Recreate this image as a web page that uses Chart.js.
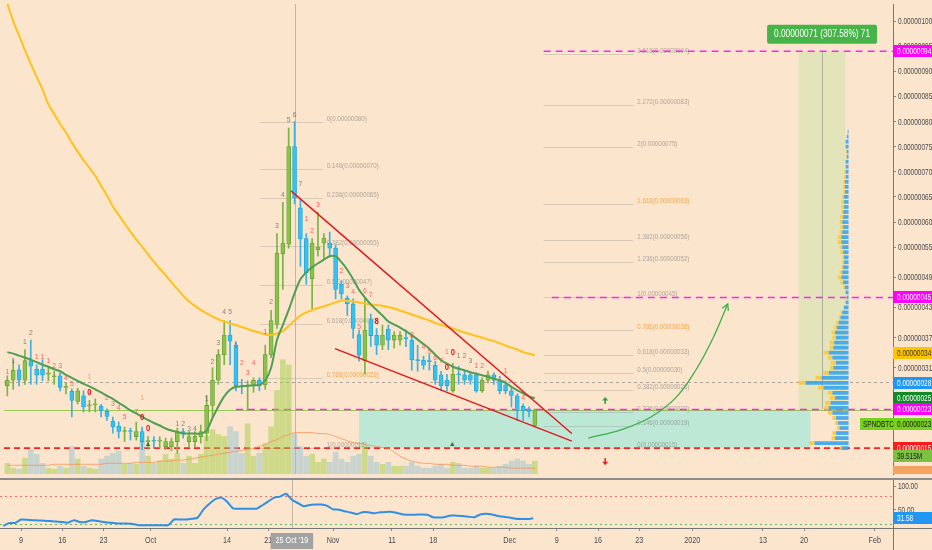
<!DOCTYPE html>
<html>
<head>
<meta charset="utf-8">
<script src="https://cdn.jsdelivr.net/npm/chart.js@4.4.1/dist/chart.umd.min.js"></script>
<style>
  html, body { margin: 0; padding: 0; background: #fce5cd; }
  #wrap { position: relative; width: 932px; height: 550px; overflow: hidden; }
  canvas { position: absolute; left: 0; }
  #main { top: 0; }
  #osc { top: 478px; }
</style>
</head>
<body>
<div id="wrap">
  <canvas id="main" width="932" height="478" style="width:932px;height:478px"></canvas>
  <canvas id="osc" width="932" height="72" style="width:932px;height:72px"></canvas>
</div>
<script>
// SPND/BTC daily, prices in satoshi (1 = 0.00000001 BTC)
// x = days since 2019-09-06
const openP = [27.4,28.5,30.6,28.5,32.4,30.7,30.7,29.7,29.2,29.4, 27.1,26.3,24.3,25.4,23.4,23.6,23.3,22.3,20.4,19.4,
  18.3,18.4,17.3,18.3,16.3,16.5,16.4,15.3,15.3,16.3, 18.2,16.3,16.3,17.3,18.0,23.5,28.5,33.6,37.5,35.5,
  27.4,27.3,27.4,28.5,27.6,33.6,39.6,53.7,55.6,75.0, 62.8,56.7,48.7,54.5,55.8,55.8,54.8,47.6,44.8,43.7,
  37.6,32.4,40.6,37.5,35.5,38.7,36.5,36.5,36.9,36.5, 32.6,32.5,32.3,31.5,29.6,28.5,26.4,29.7,29.6,29.6,
  29.6,26.4,28.5,29.6,28.5,27.6,26.4,25.4,23.3,22.4, 19.5];
const highP = [29.4,32.6,31.6,34.6,36.5,31.6,32.6,31.3,30.3,30.0, 28.0,26.8,26.9,26.4,24.5,24.8,23.7,22.8,21.2,20.2,
  19.2,19.0,20.2,19.2,17.3,17.3,17.3,17.0,17.0,19.0, 18.9,18.3,18.3,19.6,25.5,31.0,34.6,40.4,40.4,36.2,
  28.7,28.4,29.0,29.0,35.5,42.4,57.7,63.9,78.7,80.0, 64.6,57.7,56.7,62.0,57.7,58.0,55.4,48.3,45.3,44.7,
  38.5,45.0,41.7,38.8,39.5,39.5,38.2,38.2,38.5,37.5, 35.5,33.3,33.6,32.3,30.3,29.7,31.9,31.3,30.3,30.0,
  30.0,29.0,30.3,30.0,29.3,28.4,27.1,25.8,23.8,23.2, 22.8];
const lowP = [25.4,26.7,27.4,27.7,27.7,27.7,28.4,28.4,27.7,26.4, 25.8,21.2,23.8,22.2,22.2,22.2,21.2,20.5,18.0,17.0,
  16.3,16.6,16.6,14.7,15.0,15.0,15.0,14.7,14.5,14.0, 17.0,15.3,15.3,16.0,16.5,21.2,27.7,31.6,31.6,26.4,
  25.8,22.5,26.1,26.4,26.7,33.0,38.8,46.6,54.8,63.6, 51.2,47.6,42.6,53.2,52.5,53.2,44.7,44.7,41.4,36.9,
  32.3,29.7,35.2,33.6,34.6,34.6,34.9,35.5,35.2,30.5, 30.3,30.7,30.5,27.7,26.5,26.4,26.1,27.7,27.7,27.7,
  26.1,26.1,28.0,27.7,25.8,25.8,23.2,20.5,20.5,21.2, 19.3];
const closeP = [28.5,30.5,28.5,32.4,31.3,29.5,29.5,30.0,29.4,27.1, 27.2,24.5,26.4,23.2,23.6,23.8,22.4,21.3,19.2,18.3,
  18.4,18.3,18.3,16.3,16.5,16.4,16.5,16.3,16.3,18.3, 18.1,17.3,17.4,18.3,23.5,28.5,33.6,37.5,36.3,27.4,
  27.2,27.5,28.5,27.4,33.6,40.4,53.8,55.8,75.0,64.8, 56.7,49.9,55.8,55.0,56.8,54.8,46.6,45.7,43.7,38.8,
  33.5,38.5,37.4,35.5,37.5,36.5,37.5,37.5,36.8,32.6, 32.4,31.5,32.2,28.5,27.4,27.4,29.7,29.6,28.5,28.5,
  26.4,28.5,29.6,28.5,26.4,26.4,25.5,22.5,22.4,22.3, 22.6];
const emaP = [34.1,33.8,33.4,33.0,32.6,32.1,31.6,31.2,30.7,30.3, 29.6,29.0,28.4,27.8,27.3,26.7,26.1,25.4,24.8,24.0,
  23.3,22.5,21.9,21.2,20.6,20.0,19.5,18.9,18.5,18.2, 17.9,17.9,17.9,17.9,18.5,21.0,23.3,25.3,26.6,27.2,
  27.3,27.4,27.5,27.6,28.5,31.0,36.5,39.5,42.5,45.8, 48.6,50.0,51.0,51.8,52.5,53.2,53.2,52.0,50.5,48.6,
  46.5,45.0,43.6,42.5,41.4,40.2,39.6,39.0,38.3,37.5, 36.6,35.7,34.8,33.6,32.5,31.8,31.2,30.8,30.5,30.1,
  29.8,29.5,29.2,28.8,28.5,28.0,27.2,26.5,25.9,25.3, 24.9];
const maP = [103.5,100.0,97.1,94.2,91.5,88.9,86.4,83.4,81.5,79.5, 77.8,75.8,74.0,72.3,70.8,69.2,67.2,65.3,63.1,61.4,
  59.7,58.1,56.5,55.1,53.6,52.1,50.7,49.4,48.0,46.7, 45.3,44.2,43.3,42.5,41.8,41.2,40.6,40.2,39.8,39.5,
  39.1,38.7,38.3,38.0,37.6,37.5,37.8,38.3,39.3,40.4, 41.4,42.0,42.5,42.9,43.2,43.6,44.0,44.4,44.3,44.2,
  44.0,43.8,43.6,43.5,43.3,43.1,42.8,42.4,42.0,41.6, 41.2,40.8,40.4,39.9,39.5,39.1,38.8,38.4,38.0,37.7,
  37.3,37.0,36.6,36.3,35.9,35.4,35.0,34.6,34.1,33.8, 33.5];
// volume, millions
const volM = [33,18,15,49,76,61,33,18,15,24, 18,85,46,24,18,15,46,55,64,70,
  30,33,30,100,55,33,40,61,46,64, 33,55,33,61,116,137,122,116,146,131,
  64,155,55,64,94,146,258,353,337,125, 85,55,61,36,46,36,67,46,36,55,
  61,85,55,36,30,36,24,24,24,36, 24,18,18,24,30,18,36,33,18,18,
  24,18,18,18,24,30,40,46,40,30, 39.515];
const volMaM = [27,27,27,27,27, 27,27,27,30,30, 30,30,30,30,30, 30,30,33,33,33,
  33,33,36,36,36, 36,40,40,40,43, 43,46,49,52,55, 58,61,64,67,70,
  73,76,79,85,91, 100,106,116,122,128, 128,128,128,125,125, 122,116,109,103,97,
  94,91,88,85,82, 79,67,55,46,40, 36,33,33,30,30, 30,27,27,27,24,
  24,24,21,21,21, 21,18,18,18,18,18];
const rsiV = [15.4,21.5,21.5,29.0,28.3,27.6,27.0,26.3,25.6,24.9, 23.6,22.2,27.6,23.6,23.6,27.6,25.6,23.6,22.2,20.8,
  20.2,20.2,19.5,16.8,16.8,16.8,16.8,16.8,16.8,29.0, 29.0,29.0,30.4,33.1,50.8,63.0,72.5,75.9,67.1,52.8,
  52.1,52.1,52.1,52.1,59.6,67.8,75.9,78.0,84.1,71.2, 64.4,57.6,60.3,61.0,61.0,58.2,50.8,50.1,46.7,44.0,
  40.6,44.6,44.6,42.6,44.6,45.3,45.3,42.6,39.9,39.2, 39.2,39.9,39.2,33.8,33.1,34.4,37.8,37.2,36.5,35.1,
  33.8,39.9,41.2,39.9,36.5,35.1,33.1,30.5,30.0,30.0, 31.58];

// visible range volume profile
const profLevels = [15,16,17,18,19,20,21,22,23,24, 25,26,27,28,29,30,31,32,33,34, 35,36,37,38,39,40,41,42,43,44,
  45,46,47,48,49,50,51,52,53,54, 55,56,57,58,59,60,61,62,63,64, 65,66,67,68,69,70,71,72,73,74, 75,76,77,78];
const profBlue = [8,38,15,14,10,12,14,18,22,20, 15,18,28,48,30,22,17,14,18,22, 17,16,14,15,13,11,9,7,5,3,
  2,3,4,6,8,7,6,5,5,6, 7,8,8,7,6,7,6,6,5,5, 5,4,4,4,3,3,3,3,2,2, 3,3,2,1];
const profYellow = [2,6,4,4,3,3,4,5,5,6, 6,5,6,8,7,6,4,6,5,6, 4,5,4,4,3,3,2,2,1,1,
  1,1,2,3,4,3,2,2,2,3, 3,4,4,3,3,3,3,2,3,3, 2,2,2,2,2,2,1,1,1,1, 1,1,0,0];

const priceTicks = [100,95,90,85,80,75,70,65,60,55,49,43,37,31];
const rsiTicks = [100, 50];
const dateTicks = [[3,'9'],[10,'16'],[17,'23'],[25,'Oct'],[38,'14'],[45,'21'],[56,'Nov'],[66,'11'],[73,'18'],
  [86,'Dec'],[94,'9'],[101,'16'],[108,'23'],[117,'2020'],[129,'13'],[136,'20'],[148,'Feb']];
const cursorDay = 49, cursorText = "25 Oct '19";

// drawings (x in days, y in satoshi)
const fibLeftSpan = [43.1, 53.8];
const fibLeftLevels = [80, 70.5, 64.7, 55.2, 47.5, 39.8, 28.9, 15];
const fibLeftText = ['0(0.00000080)','0.146(0.00000070)','0.236(0.00000065)','0.382(0.00000055)','0.5(0.00000047)',
  '0.618(0.00000040)','0.786(0.00000029)','1(0.00000015)'];
const fibRightSpan = [91.5, 106.8];
const fibRightLevels = [93.5, 83.2, 75, 63.5, 56.5, 52.1, 45, 38.6, 33.5, 30, 26.5, 22.1, 19.4, 15];
const fibRightText = ['2.618(0.00000094)','2.272(0.00000083)','2(0.00000075)','1.618(0.00000063)','1.382(0.00000056)',
  '1.236(0.00000052)','1(0.00000045)','0.786(0.00000038)','0.618(0.00000033)','0.5(0.00000030)','0.382(0.00000026)',
  '0.236(0.00000022)','0.146(0.00000019)','0(0.00000015)'];
const trendUpper = [[48.4, 66.2], [96.3, 17.9]];
const trendLower = [[55.9, 34.8], [96.3, 16.4]];
const projPath = [[99.1,17.0],[104.8,18.7],[109.8,21.2],[114.1,25.1],[117.5,30.6],[120.4,36.9],[122.9,43.7]];
const supportLevel = 15, targetLevels = [94, 45], entryLevel = 22.7, entryFrom = 39, lastPrice = 22.6, pocLevel = 28.1;
const stopZone = [60, 137, 15, 22.7];       // from, to, low, high
const profitZone = [135, 143, 22.7, 94];
const profitMid = 139, profitText = '0.00000071 (307.58%) 71';
const signalUp = [[24, 15.7], [75.9, 15.7]];
const arrowUp = [102, 24.0], arrowDown = [102, 12.8];
const priceTags = [[94,'#ff00ff','#ffffff'],[45,'#ff00ff','#ffffff'],[34,'#ffc400','#333333'],[28,'#2196f3','#ffffff'],
  [25,'#128a2a','#ffffff'],[22.7,'#ff00ff','#ffffff'],[15,'#ff1a1a','#ffffff']];
const symbolName = 'SPNDBTC';
// sequential counts [day, price, text, kind]
const tdMarks = [[0,30.2,'1','r'],[1,32.4,'1','g'],[3,36.2,'1','g'],[4,38.0,'2','g'],[5,33.1,'1','r'],[6,33.1,'1','r'],
  [7,32.3,'1','r'],[8,31.3,'2','r'],[9,31.3,'3','r'],[10,29.0,'4','r'],[11,27.9,'5','r'],[14,29.2,'1','o'],[14,26.1,'0','R'],
  [17,25.1,'2','r'],[18,23.9,'3','r'],[19,23.0,'4','r'],[20,21.3,'5','r'],[22,22.3,'7','r'],[23,25.1,'1','o'],[23,21.1,'0','R'],
  [24,18.9,'0','R'],[29,19.9,'1','g'],[30,19.9,'2','g'],[31,18.9,'3','g'],[32,18.9,'4','g'],[34,24.8,'1','g'],[35,32.1,'2','g'],
  [36,36.0,'3','g'],[37,42.1,'4','g'],[38,42.1,'5','g'],[39,35.3,'1','r'],[40,32.0,'2','r'],[41,30.0,'3','r'],[42,32.0,'4','r'],
  [44,38.1,'1','g'],[45,44.1,'2','g'],[46,59.2,'3','g'],[47,65.4,'4','g'],[48,80.4,'5','g'],[49,81.3,'6','g'],[50,67.7,'7','g'],
  [51,60.7,'1','r'],[52,58.2,'2','r'],[53,63.4,'3','r'],[57,50.2,'2','r'],[58,47.4,'3','r'],[59,46.2,'4','r'],[60,39.1,'5','r'],
  [61,46.3,'6','r'],[62,45.5,'7','r'],[63,40.2,'8','R'],[69,37.6,'2','r'],[71,35.2,'4','r'],[72,34.2,'5','r'],[73,33.0,'6','r'],
  [74,32.3,'7','r'],[75,34.2,'1','r'],[75,31.1,'0','R'],[76,34.0,'0','R'],[77,33.3,'1','g'],[78,33.3,'2','g'],[79,32.3,'3','g'],
  [80,31.3,'1','r'],[81,31.3,'2','r'],[85,30.3,'1','r'],[88,25.0,'4','r']];

const X_MIN = -0.57, X_MAX = 151.1;
const Y_MIN = 9.85, Y_MAX = 103.39;
const FONT = "'Liberation Sans', Arial, sans-serif";
const AXIS_TXT = '#4a4a4a';
const idx = openP.map((_, i) => i);
const isUp = i => closeP[i] >= openP[i];
const sat = v => (v / 1e8).toFixed(8);
const pts = arr => arr.map(([x, y]) => ({x, y}));

// narrow text, like the chart's condensed UI font
function ctext(ctx, text, x, y, size, color, align, sx, bold) {
  ctx.save();
  ctx.font = (bold ? 'bold ' : '') + size + 'px ' + FONT;
  ctx.fillStyle = color;
  ctx.textAlign = align;
  ctx.textBaseline = 'middle';
  ctx.translate(x, y);
  ctx.scale(sx, 1);
  ctx.fillText(text, 0, 0);
  ctx.restore();
}
function ctextWidth(ctx, text, size, sx) {
  ctx.save();
  ctx.font = size + 'px ' + FONT;
  const w = ctx.measureText(text).width * sx;
  ctx.restore();
  return w;
}

function tag(ctx, x0, yc, text, bg, fg, w) {
  const yy = Math.round(yc);
  ctx.fillStyle = bg;
  ctx.fillRect(x0, yy - 6, w, 12);
  ctext(ctx, text, x0 + 4, yy + 0.5, 9, fg, 'left', 0.72);
}

function hline(ctx, x0, x1, y, color, width, dash) {
  ctx.beginPath();
  ctx.setLineDash(dash || []);
  ctx.strokeStyle = color;
  ctx.lineWidth = width;
  ctx.moveTo(x0, y);
  ctx.lineTo(x1, y);
  ctx.stroke();
  ctx.setLineDash([]);
}

const mainDecor = {
  id: 'mainDecor',
  beforeDatasetsDraw(chart) {
    const {ctx, chartArea: a, scales: {x, y}} = chart;
    ctx.save();
    ctx.beginPath(); ctx.rect(a.left, a.top, a.width, a.height); ctx.clip();
    // position tool boxes
    ctx.fillStyle = '#bde8d6';
    ctx.fillRect(x.getPixelForValue(stopZone[0]), y.getPixelForValue(stopZone[3]),
      x.getPixelForValue(stopZone[1]) - x.getPixelForValue(stopZone[0]), y.getPixelForValue(stopZone[2]) - y.getPixelForValue(stopZone[3]));
    ctx.fillStyle = 'rgba(205,228,172,0.55)';
    ctx.fillRect(x.getPixelForValue(profitZone[0]), y.getPixelForValue(profitZone[3]),
      x.getPixelForValue(profitZone[1]) - x.getPixelForValue(profitZone[0]), y.getPixelForValue(profitZone[2]) - y.getPixelForValue(profitZone[3]));
    ctx.strokeStyle = 'rgba(140,140,140,0.6)'; ctx.lineWidth = 1;
    ctx.beginPath();
    ctx.moveTo(Math.round(x.getPixelForValue(profitMid)) + 0.5, y.getPixelForValue(profitZone[3]));
    ctx.lineTo(Math.round(x.getPixelForValue(profitMid)) + 0.5, y.getPixelForValue(profitZone[2]));
    ctx.stroke();
    // cursor
    const cx = Math.round(x.getPixelForValue(cursorDay)) + 0.5;
    ctx.strokeStyle = 'rgba(125,125,125,0.45)';
    ctx.beginPath(); ctx.moveTo(cx, a.top); ctx.lineTo(cx, a.bottom); ctx.stroke();
    // fib retracement + extension
    const fib = (span, levels, texts, orange) => {
      const x0 = x.getPixelForValue(span[0]), x1 = x.getPixelForValue(span[1]);
      levels.forEach((lv, k) => {
        const py = Math.round(y.getPixelForValue(lv)) + 0.5;
        hline(ctx, x0, x1, py, 'rgba(150,150,150,0.35)', 1);
        const c = orange.includes(k) ? 'rgba(245,150,40,0.8)' : 'rgba(120,120,120,0.6)';
        ctext(ctx, texts[k], x1 + 4, py - 4, 8, c, 'left', 0.77);
      });
    };
    fib(fibLeftSpan, fibLeftLevels, fibLeftText, [6]);
    fib(fibRightSpan, fibRightLevels, fibRightText, [3, 7]);
    // horizontal levels
    hline(ctx, a.left, a.right, Math.round(y.getPixelForValue(pocLevel)) + 0.5, 'rgba(110,110,110,0.55)', 1, [3, 3]);
    hline(ctx, a.left, a.right, Math.round(y.getPixelForValue(lastPrice)) + 0.5, 'rgba(139,195,74,0.9)', 1);
    hline(ctx, x.getPixelForValue(entryFrom), a.right, y.getPixelForValue(entryLevel), '#ff22ff', 1.5, [7, 5]);
    hline(ctx, x.getPixelForValue(fibRightSpan[0]), a.right, y.getPixelForValue(targetLevels[0]), '#ff22ff', 1.5, [7, 5]);
    hline(ctx, x.getPixelForValue(92.9), a.right, y.getPixelForValue(targetLevels[1]), '#ff22ff', 1.5, [7, 5]);
    hline(ctx, a.left, a.right, y.getPixelForValue(supportLevel), '#ff1f1f', 1.6, [6, 4]);
    ctx.restore();
  },
  afterDatasetsDraw(chart) {
    const {ctx, chartArea: a, scales: {x, y}} = chart;
    ctx.save();
    ctx.beginPath(); ctx.rect(a.left, a.top, a.width, a.height); ctx.clip();
    // sequential counts
    const col = {g: 'rgba(110,110,110,0.85)', r: 'rgba(240,70,70,0.8)', o: 'rgba(240,150,70,0.85)', R: '#ee1111'};
    tdMarks.forEach(([d, p, t, k]) => {
      ctext(ctx, t, x.getPixelForValue(d), y.getPixelForValue(p), k === 'R' ? 9 : 8, col[k], 'center', 0.85, k === 'R');
    });
    // arrowhead of projection
    const n = projPath.length;
    const ex = x.getPixelForValue(projPath[n - 1][0]), ey = y.getPixelForValue(projPath[n - 1][1]);
    const px = x.getPixelForValue(projPath[n - 2][0]), py = y.getPixelForValue(projPath[n - 2][1]);
    const ang = Math.atan2(ey - py, ex - px);
    ctx.strokeStyle = '#3fae4a'; ctx.lineWidth = 1.3;
    ctx.beginPath();
    ctx.moveTo(ex - 7 * Math.cos(ang - 0.5), ey - 7 * Math.sin(ang - 0.5));
    ctx.lineTo(ex, ey);
    ctx.lineTo(ex - 7 * Math.cos(ang + 0.5), ey - 7 * Math.sin(ang + 0.5));
    ctx.stroke();
    // small arrows
    const arrow = (d, p, dir, color) => {
      const ax = x.getPixelForValue(d), ay = y.getPixelForValue(p);
      ctx.fillStyle = color;
      ctx.fillRect(ax - 0.8, ay - 3 * dir, 1.6, 4 * dir);
      ctx.beginPath();
      ctx.moveTo(ax - 3, ay - 2.5 * dir); ctx.lineTo(ax + 3, ay - 2.5 * dir); ctx.lineTo(ax, ay - 6 * dir);
      ctx.closePath(); ctx.fill();
    };
    arrow(arrowUp[0], arrowUp[1], 1, '#2ea043');
    arrow(arrowDown[0], arrowDown[1], -1, '#f02020');
    ctx.restore();
  },
  afterDraw(chart) {
    const {ctx, chartArea: a, scales: {x, y, yVol}} = chart;
    ctx.save();
    const x0 = a.right;
    // axis labels
    priceTicks.forEach(v => ctext(ctx, sat(v), x0 + 5, Math.round(y.getPixelForValue(v)) + 0.5, 9, AXIS_TXT, 'left', 0.72));
    priceTags.forEach(([v, bg, fg]) => tag(ctx, x0, y.getPixelForValue(v), sat(v), bg, fg, 39));
    // symbol label (pushed below the entry label)
    const sy = Math.round(y.getPixelForValue(lastPrice) + 14);
    ctx.fillStyle = '#79d11f';
    ctx.fillRect(x0 - 33, sy - 6, 72, 12);
    ctext(ctx, symbolName, x0 - 30, sy + 0.5, 9, '#1a1a1a', 'left', 0.72);
    ctext(ctx, sat(23), x0 + 4, sy + 0.5, 9, '#1a1a1a', 'left', 0.72);
    // volume labels
    const lv = volM[volM.length - 1];
    tag(ctx, x0, yVol.getPixelForValue(lv) - 5, lv.toFixed(3) + 'M', '#7cc242', '#1a1a1a', 39);
    ctx.fillStyle = '#f4a460';
    ctx.fillRect(x0, a.bottom - 8, 39, 8);
    // profit label
    const tw = ctextWidth(ctx, profitText, 10, 0.83) + 14;
    const tx = x.getPixelForValue(profitMid), ty = y.getPixelForValue(targetLevels[0]) - 17;
    ctx.fillStyle = '#46b448';
    ctx.beginPath();
    if (ctx.roundRect) ctx.roundRect(tx - tw / 2, ty - 9.5, tw, 19, 2); else ctx.rect(tx - tw / 2, ty - 9.5, tw, 19);
    ctx.fill();
    ctext(ctx, profitText, tx, ty + 0.5, 10, '#ffffff', 'center', 0.83);
    ctx.restore();
  }
};

new Chart(document.getElementById('main'), {
  type: 'bar',
  data: {
    datasets: [
      { type: 'bar', yAxisID: 'yVol', data: idx.map(i => ({x: i, y: volM[i]})), grouped: false, barThickness: 5,
        backgroundColor: idx.map(i => isUp(i) ? 'rgba(160,205,70,0.5)' : 'rgba(150,195,210,0.5)'), order: 10 },
      { type: 'line', yAxisID: 'yVol', data: idx.map(i => ({x: i, y: volMaM[i]})), borderColor: 'rgba(255,135,70,0.7)',
        borderWidth: 1, pointRadius: 0, tension: 0.3, order: 9 },
      { type: 'bar', indexAxis: 'y', xAxisID: 'xProf', yAxisID: 'yProf', grouped: false, barPercentage: 0.75, categoryPercentage: 1,
        data: profLevels.map((p, k) => ({y: p, x: [0, profBlue[k]]})), backgroundColor: 'rgba(55,165,240,0.9)', order: 8 },
      { type: 'bar', indexAxis: 'y', xAxisID: 'xProf', yAxisID: 'yProf', grouped: false, barPercentage: 0.75, categoryPercentage: 1,
        data: profLevels.map((p, k) => ({y: p, x: [profBlue[k], profBlue[k] + profYellow[k]]})), backgroundColor: 'rgba(255,198,60,0.9)', order: 8 },
      { type: 'bar', data: idx.map(i => ({x: i, y: [lowP[i], highP[i]]})), grouped: false, barThickness: 1,
        backgroundColor: idx.map(i => isUp(i) ? '#7cb342' : '#3cb2e2'), order: 6 },
      { type: 'bar', data: idx.map(i => ({x: i, y: [openP[i], closeP[i]]})), grouped: false, barThickness: 4, minBarLength: 1,
        backgroundColor: idx.map(i => isUp(i) ? '#8bc34a' : '#35c2f2'),
        borderColor: idx.map(i => isUp(i) ? '#6c9f36' : '#1fa6d8'), borderWidth: 0.8, borderSkipped: false, order: 5 },
      { type: 'line', data: idx.map(i => ({x: i, y: maP[i]})), borderColor: '#ffc21a', borderWidth: 2, pointRadius: 0, tension: 0.3, order: 4 },
      { type: 'line', data: idx.map(i => ({x: i, y: emaP[i]})), borderColor: '#4f9e54', borderWidth: 2, pointRadius: 0, tension: 0.3, order: 3 },
      { type: 'line', data: pts(trendUpper), borderColor: '#e3191c', borderWidth: 1.5, pointRadius: 0, order: 2 },
      { type: 'line', data: pts(trendLower), borderColor: '#e3191c', borderWidth: 1.5, pointRadius: 0, order: 2 },
      { type: 'line', data: pts(projPath), borderColor: '#3fae4a', borderWidth: 1.3, pointRadius: 0, tension: 0.4, order: 1 },
      { type: 'scatter', data: pts(signalUp), pointStyle: 'triangle', pointRadius: 2.6, backgroundColor: '#2e7d32', borderWidth: 0, order: 1 }
    ]
  },
  options: {
    responsive: false, animation: false, events: [],
    layout: { padding: 0 },
    plugins: { legend: { display: false }, tooltip: { enabled: false } },
    scales: {
      x: { type: 'linear', min: X_MIN, max: X_MAX, offset: false, display: false, grid: { offset: false } },
      y: { type: 'linear', position: 'right', min: Y_MIN, max: Y_MAX,
        afterBuildTicks: s => { s.ticks = priceTicks.map(v => ({value: v})); },
        afterFit: s => { s.width = 39; s.paddingTop = 0; s.paddingBottom = 0; },
        ticks: { display: false },
        grid: { drawOnChartArea: false, tickLength: 3, color: '#8a8a8a' },
        border: { color: '#777777' } },
      yVol: { type: 'linear', display: false, min: 0, max: 1453 },
      yProf: { type: 'linear', display: false, min: Y_MIN, max: Y_MAX, offset: false, grid: { offset: false } },
      xProf: { type: 'linear', display: false, min: 0, max: 893, reverse: true }
    }
  },
  plugins: [mainDecor]
});

const oscDecor = {
  id: 'oscDecor',
  beforeDatasetsDraw(chart) {
    const {ctx, chartArea: a, scales: {x, y}} = chart;
    ctx.save();
    hline(ctx, a.left, a.right, Math.round(y.getPixelForValue(80)) + 0.5, 'rgba(240,80,80,0.8)', 1, [2, 3]);
    hline(ctx, a.left, a.right, Math.round(y.getPixelForValue(20)) + 0.5, 'rgba(60,170,80,0.8)', 1, [2, 3]);
    const cx = Math.round(x.getPixelForValue(cursorDay)) + 0.5;
    ctx.strokeStyle = 'rgba(125,125,125,0.45)'; ctx.lineWidth = 1;
    ctx.beginPath(); ctx.moveTo(cx, 0); ctx.lineTo(cx, a.bottom); ctx.stroke();
    ctx.restore();
  },
  afterDraw(chart) {
    const {ctx, chartArea: a, scales: {x, y}} = chart;
    ctx.save();
    hline(ctx, 0, chart.width, 1, '#8c8c8c', 2);
    hline(ctx, a.right, chart.width, Math.round(a.bottom) + 0.5, '#777777', 1);
    ctx.strokeStyle = '#777777'; ctx.lineWidth = 1;
    ctx.beginPath(); ctx.moveTo(Math.round(a.right) + 0.5, a.bottom); ctx.lineTo(Math.round(a.right) + 0.5, chart.height); ctx.stroke();
    // axis labels
    rsiTicks.forEach(v => ctext(ctx, v.toFixed(2), a.right + 5, Math.round(y.getPixelForValue(v)) + 0.5, 9, AXIS_TXT, 'left', 0.72));
    dateTicks.forEach(([d, t]) => ctext(ctx, t, x.getPixelForValue(d), a.bottom + 13, 9, AXIS_TXT, 'center', 0.8));
    const last = rsiV[rsiV.length - 1];
    tag(ctx, a.right, y.getPixelForValue(last), last.toFixed(2), '#2196f3', '#ffffff', 39);
    // cursor date
    const w = ctextWidth(ctx, cursorText, 9, 0.8) + 10;
    const cx = x.getPixelForValue(cursorDay);
    ctx.fillStyle = '#a3a3a3';
    ctx.fillRect(cx - w / 2, a.bottom + 5, w, 16);
    ctext(ctx, cursorText, cx, a.bottom + 13, 9, '#ffffff', 'center', 0.8);
    ctx.restore();
  }
};

new Chart(document.getElementById('osc'), {
  type: 'line',
  data: { datasets: [
    { data: idx.map(i => ({x: i, y: rsiV[i]})), borderColor: '#2f8fe6', borderWidth: 2, pointRadius: 0, tension: 0.2 }
  ] },
  options: {
    responsive: false, animation: false, events: [],
    layout: { padding: { top: 2, left: 0, right: 0, bottom: 0 } },
    plugins: { legend: { display: false }, tooltip: { enabled: false } },
    scales: {
      x: { type: 'linear', min: X_MIN, max: X_MAX, offset: false,
        afterBuildTicks: s => { s.ticks = dateTicks.map(([v]) => ({value: v})); },
        afterFit: s => { s.height = 22; s.paddingLeft = 0; s.paddingRight = 0; },
        ticks: { display: false },
        grid: { drawOnChartArea: false, tickLength: 3, color: '#8a8a8a' },
        border: { color: '#777777' } },
      y: { type: 'linear', position: 'right', min: 10.8, max: 113.7,
        afterBuildTicks: s => { s.ticks = rsiTicks.map(v => ({value: v})); },
        afterFit: s => { s.width = 39; s.paddingTop = 0; s.paddingBottom = 0; },
        ticks: { display: false },
        grid: { drawOnChartArea: false, tickLength: 3, color: '#8a8a8a' },
        border: { color: '#777777' } }
    }
  },
  plugins: [oscDecor]
});
</script>
</body>
</html>
